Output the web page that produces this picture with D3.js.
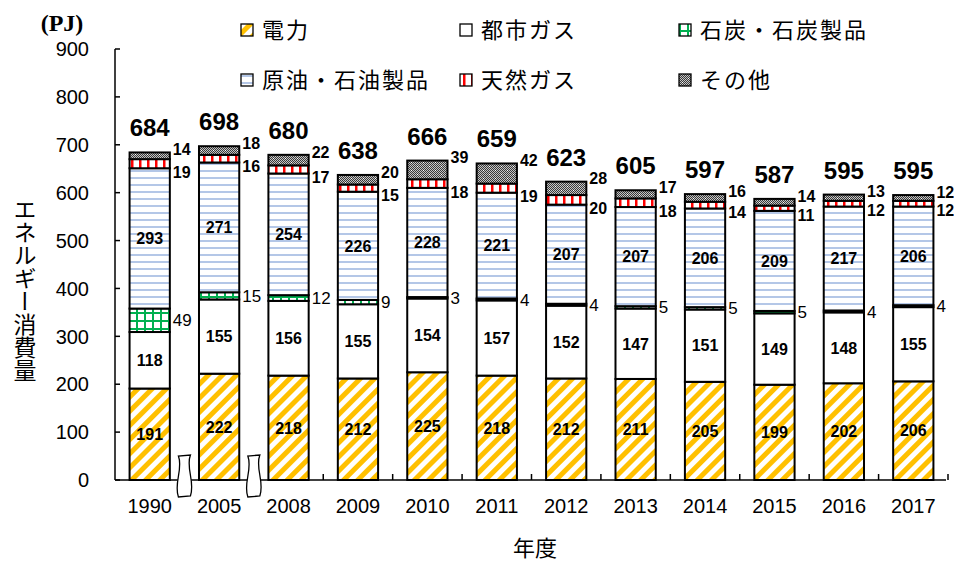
<!DOCTYPE html>
<html>
<head>
<meta charset="utf-8">
<script src="https://cdn.jsdelivr.net/npm/d3@7"></script>
<style>
  body { margin: 0; background: #fff; }
  svg text { font-family: "Liberation Sans", Arial, sans-serif; }
  svg text.jp { font-family: "Noto Sans CJK JP", sans-serif; }
</style>
</head>
<body>
<svg id="viz" width="954" height="565"></svg>
<script>
// data (PJ), bottom to top in each bar
const years = ["1990", "2005", "2008", "2009", "2010", "2011", "2012", "2013", "2014", "2015", "2016", "2017"]
const series = ["電力", "都市ガス", "石炭・石炭製品", "原油・石油製品", "天然ガス", "その他"]
const denryoku = [191, 222, 218, 212, 225, 218, 212, 211, 205, 199, 202, 206]
const toshiGas = [118, 155, 156, 155, 154, 157, 152, 147, 151, 149, 148, 155]
const sekitan = [49, 15, 12, 9, 3, 4, 4, 5, 5, 5, 4, 4]
const sekiyu = [293, 271, 254, 226, 228, 221, 207, 207, 206, 209, 217, 206]
const tennenGas = [19, 16, 17, 15, 18, 19, 20, 18, 14, 11, 12, 12]
const sonota = [14, 18, 22, 20, 39, 42, 28, 17, 16, 14, 13, 12]
const totals = [684, 698, 680, 638, 666, 659, 623, 605, 597, 587, 595, 595]
const yTicks = [0, 100, 200, 300, 400, 500, 600, 700, 800, 900]
const breakAfter = ["1990", "2005"]

const values = [denryoku, toshiGas, sekitan, sekiyu, tennenGas, sonota]
const table = years.map((y, i) => {
    const row = { year: y }
    series.forEach((s, k) => row[s] = values[k][i])
    return row
})

const svg = d3.select("#viz")
const pLeft = 115, pRight = 948, pTop = 49, pBottom = 480

const x = d3.scaleBand().domain(years).range([pLeft, pRight]).paddingInner(0.42).paddingOuter(0.21)
const y = d3.scaleLinear().domain([0, 900]).range([pBottom, pTop])

// patterns
const defs = svg.append("defs")
const pDen = defs.append("pattern").attr("id", "p0").attr("patternUnits", "userSpaceOnUse")
    .attr("width", 10).attr("height", 10).attr("patternTransform", "rotate(45)")
pDen.append("rect").attr("width", 10).attr("height", 10).attr("fill", "#fff")
pDen.append("rect").attr("width", 5).attr("height", 10).attr("fill", "#FFC000")

const pGas = defs.append("pattern").attr("id", "p1").attr("patternUnits", "userSpaceOnUse")
    .attr("width", 4).attr("height", 4)
pGas.append("rect").attr("width", 4).attr("height", 4).attr("fill", "#fff")

const pCoal = defs.append("pattern").attr("id", "p2").attr("patternUnits", "userSpaceOnUse")
    .attr("width", 8).attr("height", 8)
pCoal.append("rect").attr("width", 8).attr("height", 8).attr("fill", "#fff")
pCoal.append("rect").attr("x", 0).attr("width", 2).attr("height", 8).attr("fill", "#00B050")
pCoal.append("rect").attr("y", 0).attr("width", 8).attr("height", 2).attr("fill", "#00B050")

const pOil = defs.append("pattern").attr("id", "p3").attr("patternUnits", "userSpaceOnUse")
    .attr("width", 7).attr("height", 7)
pOil.append("rect").attr("width", 7).attr("height", 7).attr("fill", "#fff")
pOil.append("rect").attr("y", 2).attr("width", 7).attr("height", 2).attr("fill", "#B4C7E7")

const pLng = defs.append("pattern").attr("id", "p4").attr("patternUnits", "userSpaceOnUse")
    .attr("width", 8).attr("height", 8)
pLng.append("rect").attr("width", 8).attr("height", 8).attr("fill", "#fff")
pLng.append("rect").attr("x", 3).attr("width", 2.5).attr("height", 8).attr("fill", "#FF0000")

const pOth = defs.append("pattern").attr("id", "p5").attr("patternUnits", "userSpaceOnUse")
    .attr("width", 12).attr("height", 8)
pOth.append("rect").attr("width", 12).attr("height", 8).attr("fill", "#c4c4c4")
for (let i = 0; i < 12; i++) {
    for (let j = 0; j < 8; j++) {
        if ((i + j) % 2 === 0) pOth.append("rect").attr("x", i).attr("y", j).attr("width", 1).attr("height", 1).attr("fill", "#3a3a3a")
    }
}
pOth.append("path").attr("d", "M3,2h1v1h-1z M9,6h1v1h-1z").attr("fill", "#fff")

// stacked bars
const stack = d3.stack().keys(series)(table)
const layers = svg.append("g").selectAll("g")
    .data(stack)
    .join("g")
    .attr("fill", (d, k) => `url(#p${k})`)

layers.selectAll("rect")
    .data(d => d)
    .join("rect")
    .attr("x", d => x(d.data.year))
    .attr("width", x.bandwidth())
    .attr("y", d => y(d[1]))
    .attr("height", d => y(d[0]) - y(d[1]))
    .attr("stroke", "#000")
    .attr("stroke-width", 2)

// labels inside bars
const inside = [0, 1, 3]
inside.forEach(k => {
    svg.append("g").selectAll("text")
        .data(stack[k])
        .join("text")
        .attr("x", d => x(d.data.year) + x.bandwidth() / 2)
        .attr("y", d => (y(d[0]) + y(d[1])) / 2)
        .attr("dy", "0.36em")
        .attr("text-anchor", "middle")
        .attr("font-size", 16)
        .attr("font-weight", "bold")
        .text(d => d[1] - d[0])
})

// labels right of bars
const rx = d => x(d.data.year) + x.bandwidth() + 3
svg.append("g").selectAll("text")
    .data(stack[2])
    .join("text")
    .attr("x", rx)
    .attr("y", d => (y(d[0]) + y(d[1])) / 2)
    .attr("dy", "0.36em")
    .attr("font-size", 17)
    .text(d => d[1] - d[0])

svg.append("g").selectAll("text")
    .data(stack[4])
    .join("text")
    .attr("x", rx)
    .attr("y", d => y(d[0]) + 4)
    .attr("dy", "0.36em")
    .attr("font-size", 16)
    .attr("font-weight", "bold")
    .text(d => d[1] - d[0])

svg.append("g").selectAll("text")
    .data(stack[5])
    .join("text")
    .attr("x", rx)
    .attr("y", d => y(d[1]) - 3)
    .attr("dy", "0.36em")
    .attr("font-size", 16)
    .attr("font-weight", "bold")
    .text(d => d[1] - d[0])

// totals
svg.append("g").selectAll("text")
    .data(years)
    .join("text")
    .attr("x", d => x(d) + x.bandwidth() / 2)
    .attr("y", (d, i) => y(stack[5][i][1]) - 16)
    .attr("text-anchor", "middle")
    .attr("font-size", 24)
    .attr("font-weight", "bold")
    .text((d, i) => totals[i])

// y axis
const yAxis = svg.append("g")
yAxis.append("line").attr("x1", pLeft).attr("x2", pLeft).attr("y1", pTop).attr("y2", pBottom)
    .attr("stroke", "#000").attr("stroke-width", 1.5)
yAxis.selectAll(".tk").data(yTicks).join("line")
    .attr("x1", pLeft).attr("x2", pLeft + 5)
    .attr("y1", d => y(d)).attr("y2", d => y(d))
    .attr("stroke", "#000").attr("stroke-width", 1.5)
yAxis.selectAll("text").data(yTicks).join("text")
    .attr("x", 89).attr("y", d => y(d)).attr("dy", "0.36em")
    .attr("text-anchor", "end").attr("font-size", 20)
    .text(d => d)

// x axis
const step = x.step()
const edge = d => x(d) + x.bandwidth() + (step - x.bandwidth()) / 2
const xAxis = svg.append("g")
xAxis.append("line").attr("x1", pLeft).attr("x2", pRight - 2).attr("y1", pBottom).attr("y2", pBottom)
    .attr("stroke", "#000").attr("stroke-width", 1.5)
xAxis.selectAll(".tk").data(years).join("line")
    .attr("x1", edge).attr("x2", edge)
    .attr("y1", pBottom).attr("y2", pBottom - 6)
    .attr("stroke", "#000").attr("stroke-width", 1.5)
xAxis.selectAll("text").data(years).join("text")
    .attr("x", d => x(d) + x.bandwidth() / 2).attr("y", 513)
    .attr("text-anchor", "middle").attr("font-size", 20)
    .text(d => d)

// axis breaks
svg.append("g").selectAll("path")
    .data(breakAfter)
    .join("path")
    .attr("d", d => {
        const bx = edge(d)
        return `M${bx - 6},456 C${bx - 1},469 ${bx - 11},483 ${bx - 6},497 L${bx + 6},496 C${bx + 11},482 ${bx + 1},468 ${bx + 6},455 Z`
    })
    .attr("fill", "#fff").attr("stroke", "#000").attr("stroke-width", 1.3)

// titles
svg.append("text").attr("class", "jp").attr("x", 535).attr("y", 556)
    .attr("text-anchor", "middle").attr("font-size", 22).text("年度")
svg.append("text").attr("class", "jp").attr("x", 25).attr("y", 290)
    .attr("text-anchor", "middle").attr("font-size", 23)
    .style("writing-mode", "vertical-rl")
    .style("text-orientation", "upright")
    .text("エネルギー消費量")
svg.append("text").attr("x", 62).attr("y", 31).attr("text-anchor", "middle")
    .style("font-family", "'Liberation Serif', 'Times New Roman', serif")
    .attr("font-weight", "bold").attr("font-size", 24)
    .text("(PJ)")

// legend
const legendPos = [[241, 30], [460, 30], [679, 30], [241, 80], [460, 80], [679, 80]]
const legendOrder = [0, 1, 2, 3, 4, 5]
const lg = svg.append("g").selectAll("g")
    .data(legendOrder)
    .join("g")
    .attr("transform", (d, i) => `translate(${legendPos[i][0]},${legendPos[i][1]})`)
lg.append("rect").attr("x", 0).attr("y", -6).attr("width", 12).attr("height", 12)
    .attr("fill", d => `url(#p${d})`).attr("stroke", "#000").attr("stroke-width", 1.3)
lg.append("text").attr("class", "jp").attr("x", 21).attr("dy", "0.36em")
    .attr("font-size", 22).attr("letter-spacing", 2).text(d => series[d])
</script>
</body>
</html>
